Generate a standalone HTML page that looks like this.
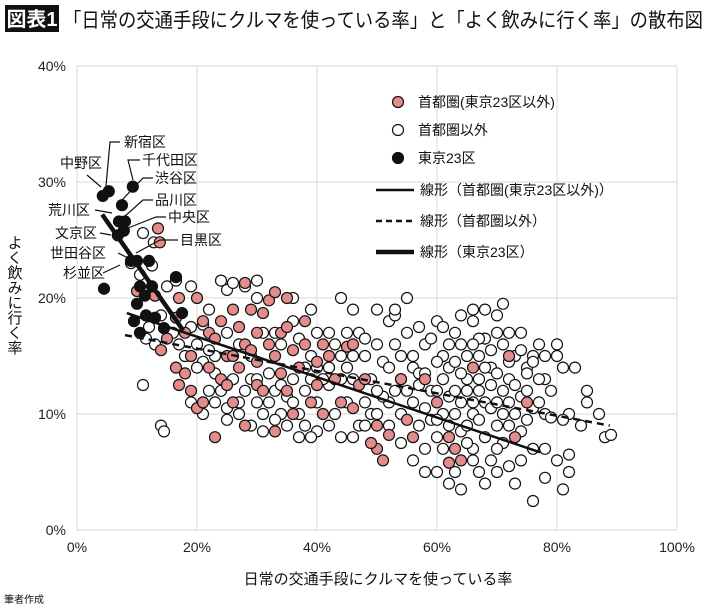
<!DOCTYPE html>
<html><head><meta charset="utf-8"><style>
body{margin:0;background:#fff;font-family:"Liberation Sans","Noto Sans CJK JP",sans-serif}
svg text{font-family:"Liberation Sans","Noto Sans CJK JP",sans-serif}
</style></head><body>
<svg id="c" width="710" height="607" viewBox="0 0 710 607" xmlns="http://www.w3.org/2000/svg">
<rect x="5" y="5" width="54" height="27" fill="#111"/>
<text x="32" y="26" fill="#fff" font-size="20" font-weight="bold" text-anchor="middle">図表1</text>
<text x="63" y="27" font-size="20" fill="#111" textLength="640" lengthAdjust="spacingAndGlyphs">「日常の交通手段にクルマを使っている率」と「よく飲みに行く率」の散布図</text>
<g id="grid"></g>
<g id="marks"></g>
<g id="labels"></g>
<g id="legend"></g>
<text x="378" y="584" font-size="15" text-anchor="middle" fill="#111">日常の交通手段にクルマを使っている率</text>
<text x="14" y="235" font-size="15" fill="#111" style="writing-mode:vertical-rl">よく飲みに行く率</text>
<text x="4" y="603" font-size="10" fill="#111">筆者作成</text>
</svg>
<script>
const xTicks=[0,20,40,60,80,100];
const yTicks=[0,10,20,30,40];
const wardNames=["新宿区","中野区","千代田区","渋谷区","品川区","荒川区","中央区","文京区","目黒区","世田谷区","杉並区"];
const tokyoPts=[[5.3,29.2],[4.3,28.8],[9.3,29.6],[7.5,28.0],[7.0,26.6],[8.0,26.6],[6.8,25.4],[7.8,25.8],[9,23.2],[10,23.2],[12,23.2],[4.5,20.8],[16.5,21.8],[10.5,21.0],[11.3,20.2],[10,19.5],[11.5,18.5],[13,18.3],[17.5,18.7],[9.5,18],[14.5,17.4],[10.5,17],[12.5,21]];
const metroPts=[[13.5,26],[13.8,24.8],[10,20.6],[13,20.2],[17,20],[16.5,18.3],[15,16.5],[14,15.5],[18,17],[20,20],[19,15],[22,17],[22,14],[23,16.5],[24,18],[25,15],[26,19],[27,17.5],[28,16],[28,21.3],[30,17],[30,14.5],[31,18.7],[32,19.8],[32,16],[33,15],[34,17],[35,20],[35,17.5],[36,15.5],[37,14],[38,16],[38,18],[40,14.5],[40,12.5],[41,10],[42,15],[44,11],[45,15.8],[46,16],[47,12.5],[48,13],[50,9],[50,7],[51,6],[52,8.2],[54,13],[56,8],[58,13],[60,11],[62,8],[62,5.8],[63,7],[64,6],[66,14],[72,15],[73,8],[75,11],[20,10.5],[19,12],[21,11],[24,13],[26,11],[28,9],[30,12.5],[33,8.5],[35,12],[18,13.5],[17,12.5],[23,8],[36,10],[16.5,14],[25,12.5],[27,14],[29,15.5],[31,12],[34,13.5],[39,11],[43,13],[46,10.5],[49,7.5],[55,9.5],[41,16],[26,15],[21,18],[33,20.5],[29,19]];
const otherPts=[[9,23],[11,25.6],[12.5,22.8],[12.8,24.8],[15,21],[16.5,21.5],[14,18.5],[10.5,22],[12,17.5],[13,16],[11.5,16.5],[11,12.5],[14,9],[14.5,8.5],[19,21],[22,19],[24,21.5],[25,20.7],[28,21],[30,20],[21,17.7],[23,15],[25,17],[27,16],[29,15],[31,17],[33,17],[34,16],[36,18],[37,16.5],[39,15],[40,17],[42,17],[43,16],[45,14],[46,19],[48,15],[49,13],[50,16],[51,14.5],[52,18],[53,16],[54,15],[55,17],[56,14],[57,13.5],[58,16],[59,12],[60,18],[61,15],[62,14],[63,17],[64,16],[65,13],[66,18],[67,15],[68,16.5],[69,14],[70,17],[71,16],[72,13],[73,15],[74,17],[75,14],[76,15],[77,16],[78,13],[80,16],[82,10],[84,9],[85,12],[88,8],[80,6],[82,5],[78,7],[76,2.5],[73,4],[70,5],[68,4],[66,6],[64,3.5],[62,4],[60,5],
[56,11],[57,9],[58,10.5],[59,9.5],[60,12],[60,8],[61,10],[61,13],[62,11.5],[62,9],[63,12],[63,10],[64,13.5],[64,11],[64,8.5],[65,12],[65,9],[65,15],[66,11],[66,10],[66,7],[67,13],[67,9.5],[67,12],[68,11],[68,8],[68,14],[69,10.5],[69,12.5],[70,11],[70,9],[70,13.5],[71,12],[71,10],[71,7.5],[72,11],[72,9],[73,12.5],[73,10],[74,11.5],[74,8.5],[75,12],[75,9.5],[76,10.5],[77,11],[78,10],[79,9.7],[76,7],[74,6],[72,5.5],[70,7],[69,6],[67,5],[65,7.5],[63,5],[61,7],[60,9.5],[58,7],[57,12.5],[56,15],[55,12],[54,10],[53,12],[52,11],[51,11.5],[50,12],[49,10],[48,11],[47,9],[46,13],[45,11],[44,13],[43,10],[42,12.5],[41,13],[40,11],[39,13],[38,12],[37,10],[36,13],[35,11.5],[34,10],[33,12],[32,13.5],[31,10],[30,11],[29,13],[28,12],[27,11],[26,13],[25,10.5],[24,12],[23,13.5],[22,12],[21,14.5],[20,16],[19,17.5],[18,15],[17,16],[16,17],[38,9],[40,8.5],[42,9],[44,8],[46,8],[48,9],[50,10],[52,9],[54,7.5],[56,6],[58,5],[45,17],[47,17],[50,19],[53,18.5],[57,17.5],[59,16.5],[62,16],[64,18.5],[66,19],[68,19],[70,18.5],[72,17],[74,15.5],[76,14.5],[78,15],[80,15],[81,14],[83,14],[71,19.5],[67,16.5],[61,17.5],[55,20],[53,19],[44,20],[39,19],[36,20],[30,21.5],[26,21.3],[22,15.5],[20,14],[19,11],[21,10],[23,11],[25,9.5],[27,10],[29,9],[31,8.5],[33,9.5],[35,9],[37,8],[39,8],[30,13],[32,11],[34,12.5],[36,11],[38,14],[40,14],[42,14],[44,15],[46,15],[48,16.5],[52,14],[54,13],[58,13.5],[60,14.5],[63,14.5],[66,16],[69,15.5],[72,14.5],[75,13.5],[77,13],[79,12],[81,9.5],[85,11],[87,10],[89,8.2],[82,6.5],[78,4.5],[81,3.5]];
const trendMetro=[[8.3,18.7],[77.2,6.7]];
const trendOther=[[8,16.8],[88.8,9.0]];
const trendTokyo=[[4.2,27.2],[17.7,17.2]];

const NS="http://www.w3.org/2000/svg";
const X=v=>77+v*6.0, Y=v=>530-v*11.6;
function mk(tag,attrs,parent){const e=document.createElementNS(NS,tag);for(const k in attrs)e.setAttribute(k,attrs[k]);parent.appendChild(e);return e;}
const grid=document.getElementById('grid'),marks=document.getElementById('marks'),labs=document.getElementById('labels'),leg=document.getElementById('legend');
xTicks.forEach(t=>{
 const l=mk('line',{x1:X(t),x2:X(t),y1:Y(40),y2:Y(0),stroke:'#d9d9d9','stroke-width':1},grid);
 
 
 const tx=mk('text',{x:X(t),y:552,'font-size':14,'text-anchor':'middle',fill:'#222'},grid);tx.textContent=t+'%';
 
 
});
yTicks.forEach(t=>{
 const l=mk('line',{x1:X(0),x2:X(100),y1:Y(t),y2:Y(t),stroke:'#d9d9d9','stroke-width':1},grid);
 
 
 const tx=mk('text',{x:66,y:Y(t)+5,'font-size':14,'text-anchor':'end',fill:'#222'},grid);tx.textContent=t+'%';
 
 
});
function pts(arr,fill,name){arr.forEach(p=>{const c=mk('circle',{cx:X(p[0]),cy:Y(p[1]),r:5.5,fill:fill,stroke:'#111','stroke-width':1.2},marks);
 
 });}
pts(otherPts,'#fff','point-metro-outer');
pts(metroPts,'#e48c8c','point-metro-excl-tokyo23');
function line(tr,w,dash,name){const l=mk('line',{x1:X(tr[0][0]),y1:Y(tr[0][1]),x2:X(tr[1][0]),y2:Y(tr[1][1]),stroke:'#111','stroke-width':w},marks);if(dash)l.setAttribute('stroke-dasharray',dash);
 
 }
line(trendMetro,2.5,null,'trend-metro');
line(trendOther,2.5,'7,5','trend-outer');
pts(tokyoPts,'#111','point-tokyo23');
line(trendTokyo,4.5,null,'trend-tokyo23');
const wardPos=[[124,147,'start',[[120,142],[110,142],[106,186]]],[60,168,'start',[[87,175],[101,187]]],[142,165,'start',[[140,160],[128,160],[133,180]]],[155,183,'start',[[153,178],[143,178],[122,200]]],[155,205,'start',[[153,200],[143,200],[124,217]]],[48,215,'start',[[95,210],[112,213]]],[168,222,'start',[[166,217],[156,217],[128,228]]],[55,238,'start',[[100,233],[111,235]]],[180,245,'start',[[178,240],[160,240],[136,253]]],[50,258,'start',[[118,253],[128,258]]],[63,278,'start',[[103,273],[120,265]]]];
wardNames.forEach((n,i)=>{const p=wardPos[i];
 const t=mk('text',{x:p[0],y:p[1],'font-size':14,'text-anchor':p[2],fill:'#111'},labs);t.textContent=n;
 
 
 const pl=mk('polyline',{points:p[3].map(q=>q.join(',')).join(' '),fill:'none',stroke:'#111','stroke-width':1.2},labs);
 
 
});
const legItems=[['c','#e48c8c','首都圏(東京23区以外)'],['c','#fff','首都圏以外'],['c','#111','東京23区'],['l','2.5','線形（首都圏(東京23区以外)）'],['d','2.5','線形（首都圏以外）'],['l','4.5','線形（東京23区）']];
const legY=[102,130,158,190,221,252];
legItems.forEach((it,i)=>{const y=legY[i];let m;
 if(it[0]=='c')m=mk('circle',{cx:398,cy:y,r:5.5,fill:it[1],stroke:'#111','stroke-width':1.2},leg);
 else{m=mk('line',{x1:376,x2:414,y1:y,y2:y,stroke:'#111','stroke-width':it[1]},leg);if(it[0]=='d')m.setAttribute('stroke-dasharray','6,4');}
 
 
 const t=mk('text',{x:it[0]=='c'?418:420,y:y+5,'font-size':14,fill:'#111'},leg);t.textContent=it[2];
 
 
});
</script>
</body></html>
